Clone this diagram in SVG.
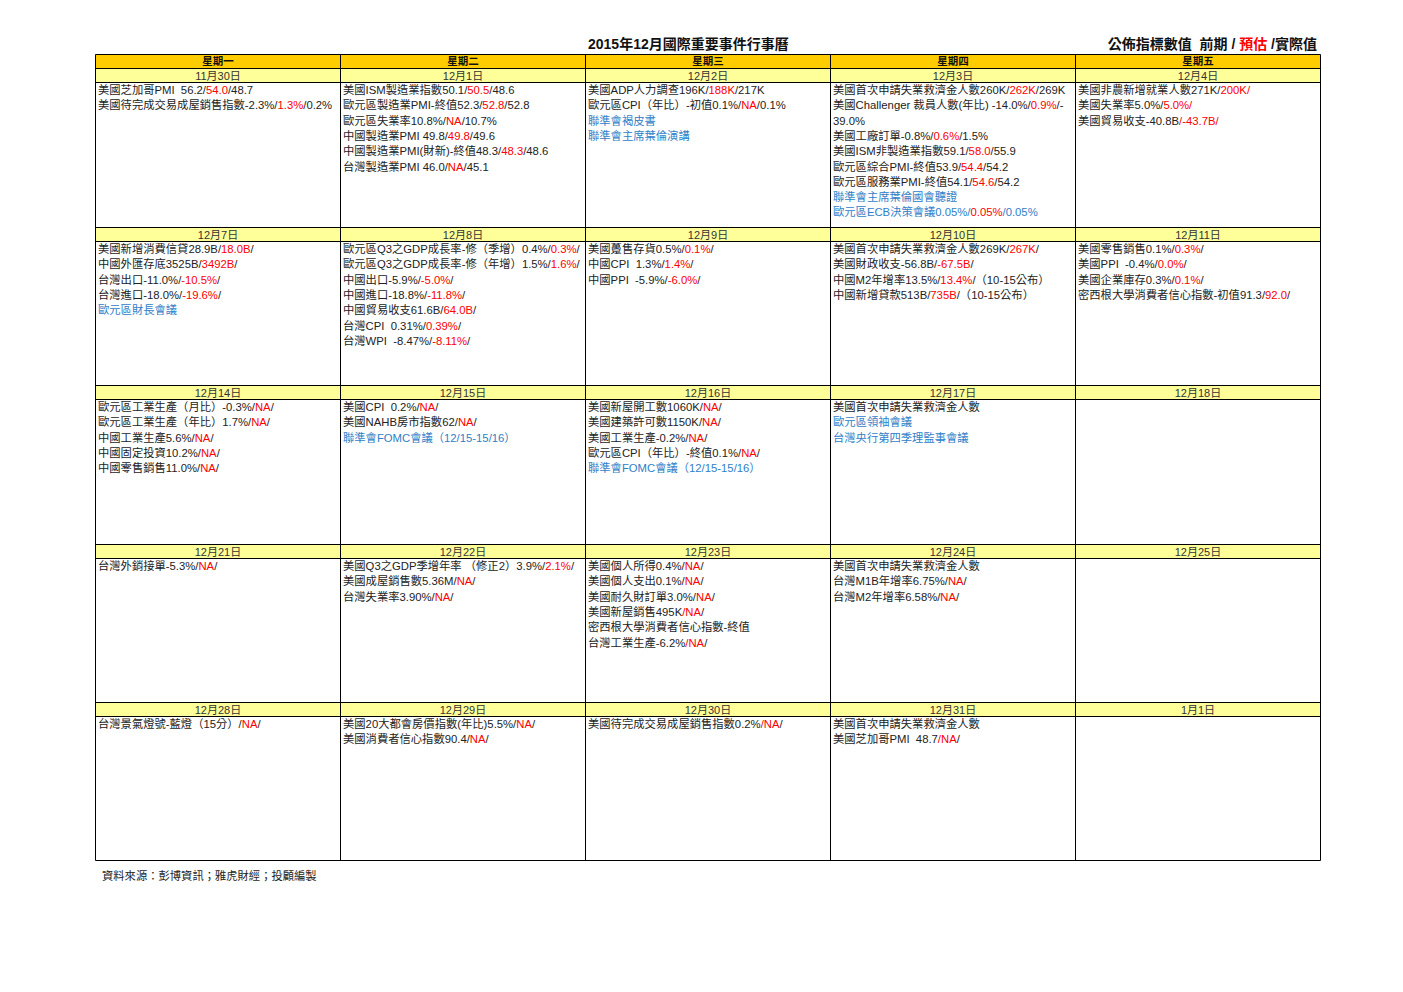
<svg xmlns="http://www.w3.org/2000/svg" width="1403" height="992" viewBox="0 0 1403 992">
<style>
text{font-family:"Liberation Sans","Noto Sans CJK TC",sans-serif;font-size:11.3px;fill:#222;white-space:pre}
.h{font-size:10.5px;font-weight:bold;text-anchor:middle;fill:#111}
.d{font-size:11px;text-anchor:middle;fill:#333}
.r{fill:#FF0000}
.b{fill:#2F80C8}
.ttl{font-size:14px;font-weight:bold;fill:#111}
.grid{stroke:#000;stroke-width:1;fill:none}
</style>
<rect width="1403" height="992" fill="#fff"/>
<g id="title">
<text class="ttl" x="588" y="49">2015年12月國際重要事件行事曆</text>
<text class="ttl" x="1317" y="49" text-anchor="end">公佈指標數值  前期 / <tspan class="r">預估</tspan> /實際值</text>
</g>
<g id="fills">
<rect x="95.5" y="54.5" width="1225" height="14" fill="#FFCC00"/>
<rect x="95.5" y="68.5" width="1225" height="14" fill="#FFFF99"/>
<rect x="95.5" y="227.5" width="1225" height="14" fill="#FFFF99"/>
<rect x="95.5" y="385.5" width="1225" height="14" fill="#FFFF99"/>
<rect x="95.5" y="544.5" width="1225" height="14" fill="#FFFF99"/>
<rect x="95.5" y="702.5" width="1225" height="14" fill="#FFFF99"/>
</g>
<g id="grid" class="grid">
<path d="M95.5 54.5H1320.5M95.5 68.5H1320.5M95.5 82.5H1320.5M95.5 227.5H1320.5M95.5 241.5H1320.5M95.5 385.5H1320.5M95.5 399.5H1320.5M95.5 544.5H1320.5M95.5 558.5H1320.5M95.5 702.5H1320.5M95.5 716.5H1320.5M95.5 860.5H1320.5"/>
<path d="M95.5 54.5V860.5M340.5 54.5V860.5M585.5 54.5V860.5M830.5 54.5V860.5M1075.5 54.5V860.5M1320.5 54.5V860.5"/>
</g>
<g id="weekdays">
<text class="h" x="218" y="65">星期一</text>
<text class="h" x="463" y="65">星期二</text>
<text class="h" x="708" y="65">星期三</text>
<text class="h" x="953" y="65">星期四</text>
<text class="h" x="1198" y="65">星期五</text>
</g>
<g id="dates">
<text class="d" x="218" y="79.5">11月30日</text>
<text class="d" x="463" y="79.5">12月1日</text>
<text class="d" x="708" y="79.5">12月2日</text>
<text class="d" x="953" y="79.5">12月3日</text>
<text class="d" x="1198" y="79.5">12月4日</text>
<text class="d" x="218" y="238.5">12月7日</text>
<text class="d" x="463" y="238.5">12月8日</text>
<text class="d" x="708" y="238.5">12月9日</text>
<text class="d" x="953" y="238.5">12月10日</text>
<text class="d" x="1198" y="238.5">12月11日</text>
<text class="d" x="218" y="396.5">12月14日</text>
<text class="d" x="463" y="396.5">12月15日</text>
<text class="d" x="708" y="396.5">12月16日</text>
<text class="d" x="953" y="396.5">12月17日</text>
<text class="d" x="1198" y="396.5">12月18日</text>
<text class="d" x="218" y="555.5">12月21日</text>
<text class="d" x="463" y="555.5">12月22日</text>
<text class="d" x="708" y="555.5">12月23日</text>
<text class="d" x="953" y="555.5">12月24日</text>
<text class="d" x="1198" y="555.5">12月25日</text>
<text class="d" x="218" y="713.5">12月28日</text>
<text class="d" x="463" y="713.5">12月29日</text>
<text class="d" x="708" y="713.5">12月30日</text>
<text class="d" x="953" y="713.5">12月31日</text>
<text class="d" x="1198" y="713.5">1月1日</text>
</g>
<g id="c1130" transform="translate(98,94)">
<text y="0">美國芝加哥PMI  56.2/<tspan class="r">54.0</tspan>/48.7</text>
<text y="15.3">美國待完成交易成屋銷售指數-2.3%/<tspan class="r">1.3%</tspan>/0.2%</text>
</g>
<g id="c1201" transform="translate(343,94)">
<text y="0">美國ISM製造業指數50.1/<tspan class="r">50.5</tspan>/48.6</text>
<text y="15.3">歐元區製造業PMI-終值52.3/<tspan class="r">52.8</tspan>/52.8</text>
<text y="30.6">歐元區失業率10.8%/<tspan class="r">NA</tspan>/10.7%</text>
<text y="45.9">中國製造業PMI 49.8/<tspan class="r">49.8</tspan>/49.6</text>
<text y="61.2">中國製造業PMI(財新)-終值48.3/<tspan class="r">48.3</tspan>/48.6</text>
<text y="76.5">台灣製造業PMI 46.0/<tspan class="r">NA</tspan>/45.1</text>
</g>
<g id="c1202" transform="translate(588,94)">
<text y="0">美國ADP人力調查196K/<tspan class="r">188K</tspan>/217K</text>
<text y="15.3">歐元區CPI（年比）-初值0.1%/<tspan class="r">NA</tspan>/0.1%</text>
<text y="30.6" class="b">聯準會褐皮書</text>
<text y="45.9" class="b">聯準會主席葉倫演講</text>
</g>
<g id="c1203" transform="translate(833,94)">
<text y="0">美國首次申請失業救濟金人數260K/<tspan class="r">262K</tspan>/269K</text>
<text y="15.3">美國Challenger 裁員人數(年比) -14.0%/<tspan class="r">0.9%</tspan>/-</text>
<text y="30.6">39.0%</text>
<text y="45.9">美國工廠訂單-0.8%/<tspan class="r">0.6%</tspan>/1.5%</text>
<text y="61.2">美國ISM非製造業指數59.1/<tspan class="r">58.0</tspan>/55.9</text>
<text y="76.5">歐元區綜合PMI-終值53.9/<tspan class="r">54.4</tspan>/54.2</text>
<text y="91.8">歐元區服務業PMI-終值54.1/<tspan class="r">54.6</tspan>/54.2</text>
<text y="107.1" class="b">聯準會主席葉倫國會聽證</text>
<text y="122.4" class="b">歐元區ECB決策會議0.05%/<tspan class="r">0.05%</tspan>/0.05%</text>
</g>
<g id="c1204" transform="translate(1078,94)">
<text y="0">美國非農新增就業人數271K/<tspan class="r">200K/</tspan></text>
<text y="15.3">美國失業率5.0%/<tspan class="r">5.0%/</tspan></text>
<text y="30.6">美國貿易收支-40.8B<tspan class="r">/-43.7B/</tspan></text>
</g>
<g id="c1207" transform="translate(98,253)">
<text y="0">美國新增消費信貸28.9B/<tspan class="r">18.0B</tspan>/</text>
<text y="15.3">中國外匯存底3525B/<tspan class="r">3492B</tspan>/</text>
<text y="30.6">台灣出口-11.0%/<tspan class="r">-10.5%</tspan>/</text>
<text y="45.9">台灣進口-18.0%/<tspan class="r">-19.6%</tspan>/</text>
<text y="61.2" class="b">歐元區財長會議</text>
</g>
<g id="c1208" transform="translate(343,253)">
<text y="0">歐元區Q3之GDP成長率-修（季增）0.4%/<tspan class="r">0.3%</tspan>/</text>
<text y="15.3">歐元區Q3之GDP成長率-修（年增）1.5%/<tspan class="r">1.6%</tspan>/</text>
<text y="30.6">中國出口-5.9%/<tspan class="r">-5.0%</tspan>/</text>
<text y="45.9">中國進口-18.8%/<tspan class="r">-11.8%</tspan>/</text>
<text y="61.2">中國貿易收支61.6B/<tspan class="r">64.0B</tspan>/</text>
<text y="76.5">台灣CPI  0.31%/<tspan class="r">0.39%</tspan>/</text>
<text y="91.8">台灣WPI  -8.47%/<tspan class="r">-8.11%</tspan>/</text>
</g>
<g id="c1209" transform="translate(588,253)">
<text y="0">美國躉售存貨0.5%/<tspan class="r">0.1%</tspan>/</text>
<text y="15.3">中國CPI  1.3%/<tspan class="r">1.4%</tspan>/</text>
<text y="30.6">中國PPI  -5.9%/<tspan class="r">-6.0%</tspan>/</text>
</g>
<g id="c1210" transform="translate(833,253)">
<text y="0">美國首次申請失業救濟金人數269K/<tspan class="r">267K</tspan>/</text>
<text y="15.3">美國財政收支-56.8B/<tspan class="r">-67.5B</tspan>/</text>
<text y="30.6">中國M2年增率13.5%/<tspan class="r">13.4%</tspan>/（10-15公布）</text>
<text y="45.9">中國新增貸款513B/<tspan class="r">735B</tspan>/（10-15公布）</text>
</g>
<g id="c1211" transform="translate(1078,253)">
<text y="0">美國零售銷售0.1%/<tspan class="r">0.3%</tspan>/</text>
<text y="15.3">美國PPI  -0.4%/<tspan class="r">0.0%</tspan>/</text>
<text y="30.6">美國企業庫存0.3%/<tspan class="r">0.1%</tspan>/</text>
<text y="45.9">密西根大學消費者信心指數-初值91.3/<tspan class="r">92.0</tspan>/</text>
</g>
<g id="c1214" transform="translate(98,411)">
<text y="0">歐元區工業生產（月比）-0.3%/<tspan class="r">NA</tspan>/</text>
<text y="15.3">歐元區工業生產（年比）1.7%/<tspan class="r">NA</tspan>/</text>
<text y="30.6">中國工業生產5.6%/<tspan class="r">NA</tspan>/</text>
<text y="45.9">中國固定投資10.2%/<tspan class="r">NA</tspan>/</text>
<text y="61.2">中國零售銷售11.0%/<tspan class="r">NA</tspan>/</text>
</g>
<g id="c1215" transform="translate(343,411)">
<text y="0">美國CPI  0.2%/<tspan class="r">NA</tspan>/</text>
<text y="15.3">美國NAHB房市指數62/<tspan class="r">NA</tspan>/</text>
<text y="30.6" class="b">聯準會FOMC會議（12/15-15/16）</text>
</g>
<g id="c1216" transform="translate(588,411)">
<text y="0">美國新屋開工數1060K/<tspan class="r">NA</tspan>/</text>
<text y="15.3">美國建築許可數1150K/<tspan class="r">NA</tspan>/</text>
<text y="30.6">美國工業生產-0.2%/<tspan class="r">NA</tspan>/</text>
<text y="45.9">歐元區CPI（年比）-終值0.1%/<tspan class="r">NA</tspan>/</text>
<text y="61.2" class="b">聯準會FOMC會議（12/15-15/16）</text>
</g>
<g id="c1217" transform="translate(833,411)">
<text y="0">美國首次申請失業救濟金人數</text>
<text y="15.3" class="b">歐元區領袖會議</text>
<text y="30.6" class="b">台灣央行第四季理監事會議</text>
</g>
<g id="c1218"/>
<g id="c1221" transform="translate(98,570)">
<text y="0">台灣外銷接單-5.3%/<tspan class="r">NA</tspan>/</text>
</g>
<g id="c1222" transform="translate(343,570)">
<text y="0">美國Q3之GDP季增年率 （修正2）3.9%/<tspan class="r">2.1%</tspan>/</text>
<text y="15.3">美國成屋銷售數5.36M/<tspan class="r">NA</tspan>/</text>
<text y="30.6">台灣失業率3.90%/<tspan class="r">NA</tspan>/</text>
</g>
<g id="c1223" transform="translate(588,570)">
<text y="0">美國個人所得0.4%/<tspan class="r">NA</tspan>/</text>
<text y="15.3">美國個人支出0.1%/<tspan class="r">NA</tspan>/</text>
<text y="30.6">美國耐久財訂單3.0%/<tspan class="r">NA</tspan>/</text>
<text y="45.9">美國新屋銷售495K<tspan class="r">/NA</tspan>/</text>
<text y="61.2">密西根大學消費者信心指數-終值</text>
<text y="76.5">台灣工業生產-6.2%<tspan class="r">/NA</tspan>/</text>
</g>
<g id="c1224" transform="translate(833,570)">
<text y="0">美國首次申請失業救濟金人數</text>
<text y="15.3">台灣M1B年增率6.75%/<tspan class="r">NA</tspan>/</text>
<text y="30.6">台灣M2年增率6.58%/<tspan class="r">NA</tspan>/</text>
</g>
<g id="c1225"/>
<g id="c1228" transform="translate(98,728)">
<text y="0">台灣景氣燈號-藍燈（15分）/<tspan class="r">NA</tspan>/</text>
</g>
<g id="c1229" transform="translate(343,728)">
<text y="0">美國20大都會房價指數(年比)5.5%/<tspan class="r">NA</tspan>/</text>
<text y="15.3">美國消費者信心指數90.4/<tspan class="r">NA</tspan>/</text>
</g>
<g id="c1230" transform="translate(588,728)">
<text y="0">美國待完成交易成屋銷售指數0.2%<tspan class="r">/NA</tspan>/</text>
</g>
<g id="c1231" transform="translate(833,728)">
<text y="0">美國首次申請失業救濟金人數</text>
<text y="15.3">美國芝加哥PMI  48.7<tspan class="r">/NA</tspan>/</text>
</g>
<g id="c0101"/>
<g id="footer">
<text x="102" y="880">資料來源：彭博資訊；雅虎財經；投顧編製</text>
</g>
</svg>
